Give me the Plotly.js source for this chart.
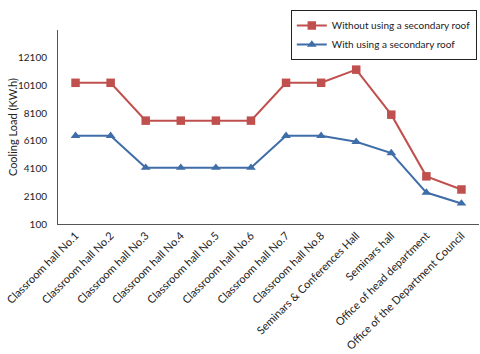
<!DOCTYPE html>
<html><head><meta charset="utf-8">
<script src="https://cdn.plot.ly/plotly-3.0.1.min.js"></script>
<style>html,body{margin:0;padding:0;background:#fff}#c{width:480px;height:354px}</style>
</head><body><div id="c"></div>
<script>
const categories = ["Classroom hall No.1","Classroom hall No.2","Classroom hall No.3","Classroom hall No.4","Classroom hall No.5","Classroom hall No.6","Classroom hall No.7","Classroom hall No.8","Seminars & Conferences Hall","Seminars hall","Office of head department","Office of the Department Council"];
const withoutRoof = [10290, 10290, 7560, 7560, 7560, 7560, 10290, 10290, 11240, 7990, 3540, 2590];
const withRoof = [6460, 6460, 4160, 4160, 4160, 4160, 6460, 6460, 6030, 5220, 2370, 1580];
const yTicks = [100, 2100, 4100, 6100, 8100, 10100, 12100];
const yTitle = "Cooling Load (KW.h)";

const font = "Lato, 'Open Sans', sans-serif";
const data = [
  {x: categories, y: withoutRoof, name: "Without using a secondary roof", type: "scatter", mode: "lines+markers",
   line: {color: "#C0504D", width: 2}, marker: {symbol: "square", size: 8.5, color: "#C0504D"}},
  {x: categories, y: withRoof, name: "With using a secondary roof", type: "scatter", mode: "lines+markers",
   line: {color: "#3F6DA8", width: 2}, marker: {symbol: "triangle-up", size: 8.5, color: "#3F6DA8"}}
];
const layout = {
  width: 480, height: 354,
  margin: {l: 58, r: 1, t: 30, b: 130},
  paper_bgcolor: "#fff", plot_bgcolor: "#fff",
  font: {family: font, size: 11, color: "#222"},
  showlegend: true,
  legend: {x: 0.553, y: 1.103, xanchor: "left", yanchor: "top", bordercolor: "#222", borderwidth: 1,
           bgcolor: "#fff", font: {size: 10}, tracegroupgap: 2, itemwidth: 30},
  xaxis: {type: "category", showline: true, linecolor: "#555", linewidth: 1, showgrid: false, ticks: "",
          tickangle: -45, tickfont: {size: 11}, range: [-0.5, 11.5], zeroline: false},
  yaxis: {range: [100, 14100], tickvals: yTicks, ticktext: yTicks.map(String), showline: true, linecolor: "#555",
          linewidth: 1, showgrid: false, ticks: "", zeroline: false, tickfont: {size: 10}, ticklabelstandoff: 8},
  annotations: [{text: yTitle, xref: "paper", yref: "paper", x: -0.109, y: 0.5, xanchor: "center", yanchor: "middle",
                 textangle: -90, showarrow: false, font: {size: 11, color: "#222"}}]
};
Plotly.newPlot("c", data, layout, {displayModeBar: false, staticPlot: true});
</script></body></html>
